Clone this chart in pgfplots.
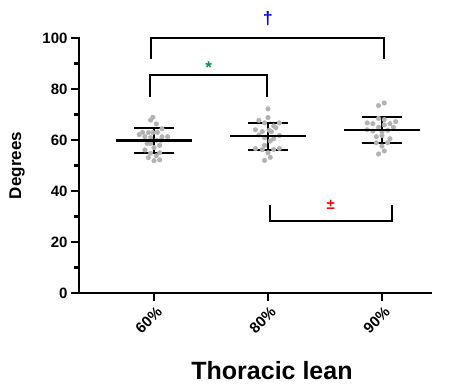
\documentclass[border=0pt]{standalone}
\usepackage{pgfplots}
\pgfplotsset{compat=1.18}
\usepackage{fontspec}
\setmainfont{Liberation Sans}
\definecolor{dotgray}{RGB}{178,178,178}
\definecolor{sigblue}{RGB}{0,0,255}
\definecolor{siggreen}{RGB}{0,150,70}
\definecolor{sigred}{RGB}{255,0,0}

\begin{document}
\begin{tikzpicture}[x=1pt,y=1pt]
\path[use as bounding box] (-79,-92) rectangle (376,293);
\begin{axis}[
  at={(0,0)}, anchor=south west,
  scale only axis, width=352pt, height=255pt,
  xmin=-0.658, xmax=2.43, ymin=0, ymax=100,
  axis x line*=bottom, axis y line*=left,
  axis line style={line width=2.8pt, line cap=rect},
  clip=false,
  xtick={0,1,2}, xticklabels={60\%,80\%,90\%},
  ytick={0,20,40,60,80,100},
  minor ytick={10,30,50,70,90},
  tick align=outside,
  major tick length=8pt, minor tick length=5pt,
  every tick/.style={black, line width=2.8pt},
  /pgf/number format/assume math mode=true,
  ticklabel style={font=\fontsize{15}{17}\selectfont\bfseries},
  xticklabel style={rotate=45, anchor=east, xshift=1pt, yshift=-10pt},
  ylabel={Degrees},
  every axis y label/.style={at={(rel axis cs:0,0.5)}, xshift=-62pt, rotate=90, anchor=center,
    font=\fontsize{17}{20}\selectfont\bfseries},
  xlabel={Thoracic lean},
  every axis x label/.style={at={(rel axis cs:0,0)}, xshift=193pt, yshift=-78pt, anchor=center,
    font=\fontsize{25}{30}\selectfont\bfseries},
]
% individual observations
\addplot[only marks, color=dotgray, mark=*, mark size=2.3pt, mark options={draw=dotgray, fill=dotgray}] coordinates {
(-0.01,68.9) (-0.03,67.8) (0.02,66.3) (0.07,64.4) (-0.10,63.0) (-0.13,62.1)
(-0.05,62.9) (-0.01,62.9) (0.03,63.0) (-0.08,61.3) (-0.03,60.9) (0.07,61.2)
(0.12,61.3) (-0.06,58.7) (0.02,59.9) (0.06,59.9) (-0.03,58.7) (0.00,57.0)
(0.05,57.9) (-0.08,56.1) (-0.03,54.8) (0.05,55.0) (-0.05,53.1) (0.00,51.9)
(0.05,52.2) (0.02,53.8)
};
\addplot[only marks, color=dotgray, mark=*, mark size=2.3pt, mark options={draw=dotgray, fill=dotgray}] coordinates {
(1.00,72.2) (1.00,68.8) (0.92,67.7) (0.97,66.7) (1.10,66.7) (1.05,65.5)
(1.07,64.8) (0.89,64.0) (0.95,63.3) (1.01,63.8) (1.03,63.3) (0.92,62.0)
(1.10,61.8) (0.97,60.9) (1.05,60.5) (1.02,59.6) (0.97,57.9) (0.89,56.6)
(0.95,56.2) (1.05,56.3) (1.10,56.7) (1.00,55.0) (1.02,53.2) (0.97,52.0)
};
\addplot[only marks, color=dotgray, mark=*, mark size=2.3pt, mark options={draw=dotgray, fill=dotgray}] coordinates {
(2.02,74.5) (1.97,73.5) (1.97,68.5) (2.02,68.0) (1.87,66.7) (1.92,66.4)
(2.02,65.9) (2.07,66.4) (2.12,67.2) (1.97,65.0) (2.10,65.0) (1.87,64.0)
(1.92,63.5) (2.00,63.3) (2.05,63.8) (2.00,61.7) (1.95,61.3) (2.07,60.5)
(1.95,58.9) (2.00,57.6) (2.05,58.9) (2.02,55.7) (1.97,54.5)
};
% mean with SD
\addplot[only marks, black, mark=-, mark size=38pt, mark options={line width=2.4pt, black},
  error bars/.cd, y dir=both, y explicit,
  error mark=|, error mark options={mark size=20pt, line width=2.2pt, black},
  error bar style={line width=2.2pt, black}]
  coordinates {(0,59.8) +- (0,4.9) (1,61.5) +- (0,5.3) (2,63.9) +- (0,5.0)};
% comparison brackets
\addplot[black, line width=2pt, sharp plot] coordinates {(-0.026,91.6) (-0.026,100) (2.015,100) (2.015,91.6)};
\addplot[black, line width=2pt, sharp plot] coordinates {(-0.035,76.9) (-0.035,85.4) (0.99,85.4) (0.99,76.9)};
\addplot[black, line width=2pt, sharp plot] coordinates {(1.02,34.5) (1.02,28.2) (2.085,28.2) (2.085,34.5)};
\node[text=sigblue, font=\fontsize{18}{20}\selectfont\bfseries] at (axis cs:1.0,107.7) {†};
\node[text=siggreen, font=\fontsize{17}{20}\selectfont\bfseries] at (axis cs:0.48,88.5) {*};
\node[text=sigred, font=\fontsize{15}{18}\selectfont\bfseries] at (axis cs:1.55,34.5) {±};
\end{axis}
\end{tikzpicture}
\end{document}
